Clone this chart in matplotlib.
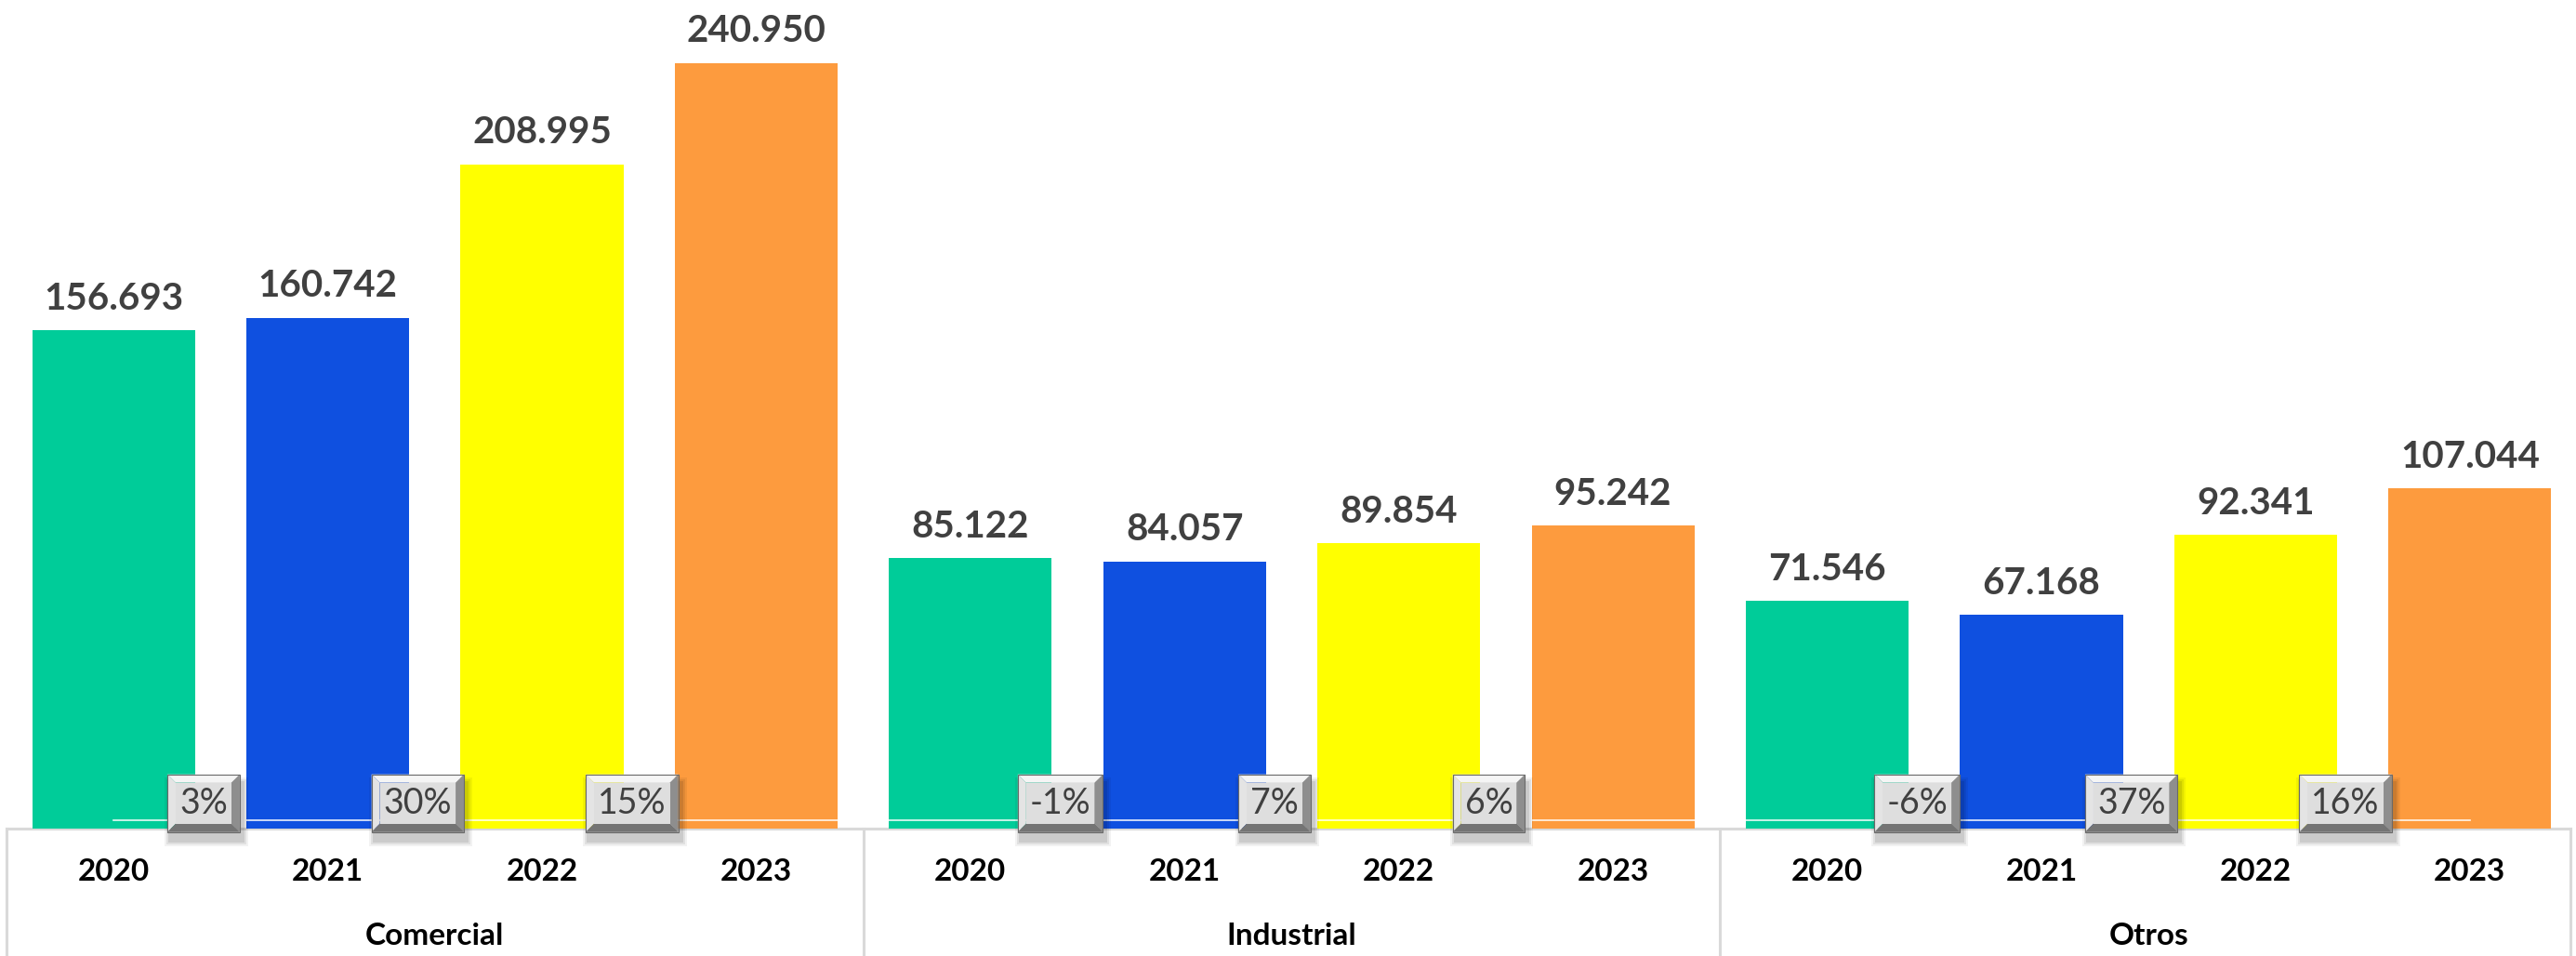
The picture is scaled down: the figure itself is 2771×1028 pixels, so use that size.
import numpy as np
import matplotlib
matplotlib.use('Agg')
import matplotlib.pyplot as plt
from matplotlib.patches import Polygon, Rectangle
from matplotlib.transforms import IdentityTransform, blended_transform_factory

plt.rcParams['font.family'] = ['Lato', 'DejaVu Sans']

# datos
categorias = ['Comercial', 'Industrial', 'Otros']
anios = ['2020', '2021', '2022', '2023']
comercial = [156.693, 160.742, 208.995, 240.950]
industrial = [85.122, 84.057, 89.854, 95.242]
otros = [71.546, 67.168, 92.341, 107.044]
crecimiento = [3, 30, 15, -1, 7, 6, -6, 37, 16]
colores = ['#00CC99', '#0F50E0', '#FFFF00', '#FD9B3E']

valores = comercial + industrial + otros
n_anios = len(anios)
x = np.arange(len(valores))

W, H = 2771, 1028
fig = plt.figure(figsize=(W / 100, H / 100), dpi=100)
ax = fig.add_axes([7 / W, 137 / H, 2765 / W, 891 / H])
ax.set_xlim(-0.5, len(valores) - 0.5)
ax.set_ylim(0, 260.7)
ax.axis('off')

ax.bar(x, valores, width=0.76, color=[colores[i % n_anios] for i in x], zorder=2)

# etiquetas de valor
for xi, v in zip(x, valores):
    ax.annotate(f'{v:.3f}', (xi, v), xytext=(0, 16), textcoords='offset points',
                ha='center', va='baseline', fontsize=29, fontweight='bold', color='#404040')

# linea blanca casi plana cerca de la base
ax.plot(x, np.full(len(x), 2.6), color='white', lw=1.2, zorder=3, alpha=0.9)

# caja del eje de categorias
tr = blended_transform_factory(ax.transData, ax.transAxes)
ax.plot([-0.5, 11.47], [0, 0], transform=tr, color='#d9d9d9', lw=2.2, zorder=1, clip_on=False)
for xv in [-0.5, 3.5, 7.5, 11.47]:
    ax.plot([xv, xv], [0, -0.2], transform=tr, color='#d9d9d9', lw=2.2, clip_on=False)

for xi in x:
    ax.text(xi, -0.0527, anios[xi % n_anios], transform=tr, ha='center', va='center',
            fontsize=24, fontweight='bold', color='black')
for g, cat in enumerate(categorias):
    ax.text(g * n_anios + (n_anios - 1) / 2, -0.130, cat, transform=tr, ha='center',
            va='center', fontsize=24, fontweight='bold', color='black')

# etiquetas de crecimiento en cajas biseladas
textos = []
k = 0
for g in range(len(categorias)):
    for j in range(n_anios - 1):
        xp = g * n_anios + j + 0.5 - 0.08
        t = ax.text(xp, 8.0, f'{crecimiento[k]}%', ha='center', va='center',
                    fontsize=27, color='#404040', zorder=8)
        textos.append(t)
        k += 1

fig.canvas.draw()
rend = fig.canvas.get_renderer()
ident = IdentityTransform()
for t in textos:
    bb = t.get_window_extent(rend)
    cx = (bb.x0 + bb.x1) / 2
    cy = (bb.y0 + bb.y1) / 2
    w = bb.width + 26
    h = 62
    x0, x1 = cx - w / 2, cx + w / 2
    y0, y1 = cy - h / 2, cy + h / 2
    b = 9
    # sombra
    for s, a in [(12, 0.05), (8, 0.07), (4, 0.09)]:
        fig.patches.append(Rectangle((x0 + 3 - s / 2, y0 - 9 - s / 2), w + s, h + s,
                                     transform=ident, facecolor='black', alpha=a,
                                     edgecolor='none', zorder=5))
    partes = [
        ([(x0, y1), (x1, y1), (x1 - b, y1 - b), (x0 + b, y1 - b)], '#f5f5f5'),
        ([(x0, y0), (x0, y1), (x0 + b, y1 - b), (x0 + b, y0 + b)], '#e4e4e4'),
        ([(x1, y0), (x1, y1), (x1 - b, y1 - b), (x1 - b, y0 + b)], '#8e8e8e'),
        ([(x0, y0), (x1, y0), (x1 - b, y0 + b), (x0 + b, y0 + b)], '#747474'),
        ([(x0 + b, y0 + b), (x1 - b, y0 + b), (x1 - b, y1 - b), (x0 + b, y1 - b)], '#dedede'),
    ]
    for pts, c in partes:
        fig.patches.append(Polygon(pts, closed=True, transform=ident, facecolor=c,
                                   edgecolor='none', zorder=6))
    fig.patches.append(Rectangle((x0, y0), w, h, transform=ident, facecolor='none',
                                 edgecolor='#6a6a6a', lw=0.8, zorder=7))
    # pasar el texto por encima de la caja
    t.remove()
    fig.text(cx, cy, t.get_text(), transform=ident, ha='center', va='center',
             fontsize=27, color='#404040', zorder=9)

fig.savefig('out.png', dpi=100)
